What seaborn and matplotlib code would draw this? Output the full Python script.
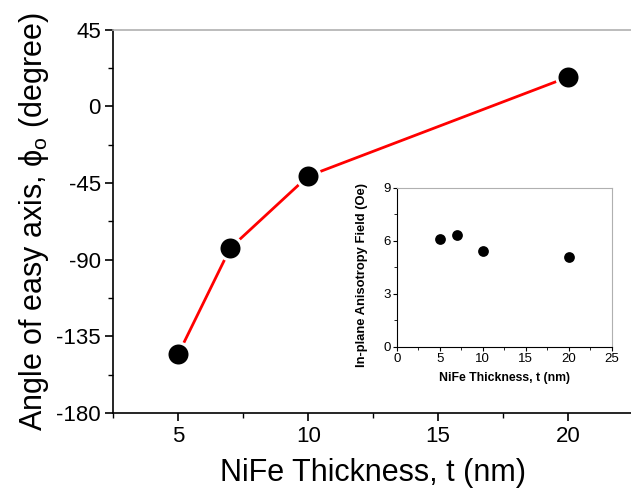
import numpy as np
import pandas as pd
import matplotlib
matplotlib.use("Agg")
import matplotlib.pyplot as plt
from matplotlib.ticker import MultipleLocator
import seaborn as sns

# NiFe thickness (nm) and easy-axis angle (degree)
thickness = [5, 7, 10, 20]
easy_axis_angle = [-145.4, -83.2, -40.9, 17.2]
# In-plane anisotropy field (Oe) for the same samples
anisotropy_field = [6.1, 6.36, 5.4, 5.09]

main_df = pd.DataFrame({"t": thickness, "phi": easy_axis_angle})
inset_df = pd.DataFrame({"t": thickness, "hk": anisotropy_field})

sns.set_theme(style="ticks")
plt.rcParams["font.family"] = ["Liberation Sans", "DejaVu Sans"]
plt.rcParams["mathtext.fontset"] = "custom"
plt.rcParams["mathtext.rm"] = "Liberation Sans"
plt.rcParams["mathtext.it"] = "Liberation Sans"
plt.rcParams["axes.unicode_minus"] = False

fig = plt.figure(figsize=(6.31, 5.01), dpi=100)
ax = fig.add_axes([0.1796, 0.1756, 0.8235, 0.765])

sns.lineplot(data=main_df, x="t", y="phi", color="#ff0000", linewidth=2.0, ax=ax)
sns.scatterplot(data=main_df, x="t", y="phi", color="black", s=16.6**2,
                edgecolor="white", linewidth=2.2, ax=ax, zorder=3)

ax.set_xlim(2.5, 22.5)
ax.set_ylim(-180, 45)
ax.xaxis.set_major_locator(MultipleLocator(5))
ax.xaxis.set_minor_locator(MultipleLocator(2.5))
ax.yaxis.set_major_locator(MultipleLocator(45))
ax.yaxis.set_minor_locator(MultipleLocator(22.5))
ax.tick_params(which="major", direction="out", length=5.5, width=1.2,
               labelsize=16, color="black", labelcolor="black")
ax.tick_params(which="minor", direction="out", length=3.5, width=1.0, color="black")
ax.spines["left"].set_color("black")
ax.spines["bottom"].set_color("black")
ax.spines["left"].set_linewidth(1.2)
ax.spines["bottom"].set_linewidth(1.2)
ax.spines["top"].set_color("#b0b0b0")
ax.spines["top"].set_linewidth(1.2)
ax.spines["right"].set_visible(False)
ax.set_xlabel("NiFe Thickness, t (nm)", fontsize=22, color="black", labelpad=8)
ax.set_ylabel(r"Angle of easy axis, $\mathregular{\phi_o}$ (degree)",
              fontsize=22, color="black", labelpad=4)

# Inset: anisotropy field
ins = fig.add_axes([0.6287, 0.308, 0.3412, 0.3168])
sns.scatterplot(data=inset_df, x="t", y="hk", color="black", s=60,
                edgecolor="black", linewidth=0, ax=ins)
ins.set_xlim(0, 25)
ins.set_ylim(0, 9)
ins.xaxis.set_major_locator(MultipleLocator(5))
ins.xaxis.set_minor_locator(MultipleLocator(2.5))
ins.yaxis.set_major_locator(MultipleLocator(3))
ins.yaxis.set_minor_locator(MultipleLocator(1.5))
ins.tick_params(which="major", direction="out", length=3, width=0.8,
                labelsize=9.5, pad=1.5, color="black", labelcolor="black")
ins.tick_params(which="minor", direction="out", length=2, width=0.6, color="black")
for side in ("left", "bottom"):
    ins.spines[side].set_color("black")
    ins.spines[side].set_linewidth(0.8)
for side in ("top", "right"):
    ins.spines[side].set_color("#b0b0b0")
    ins.spines[side].set_linewidth(0.8)
ins.set_xlabel("NiFe Thickness, t (nm)", fontsize=8.8, fontweight="bold",
               color="black", labelpad=5)
ins.set_ylabel("In-plane Anisotropy Field (Oe)", fontsize=9.4, fontweight="bold",
               color="black")
ins.yaxis.set_label_coords(-0.135, 0.45)

fig.savefig("out.png", dpi=100, facecolor="white")
